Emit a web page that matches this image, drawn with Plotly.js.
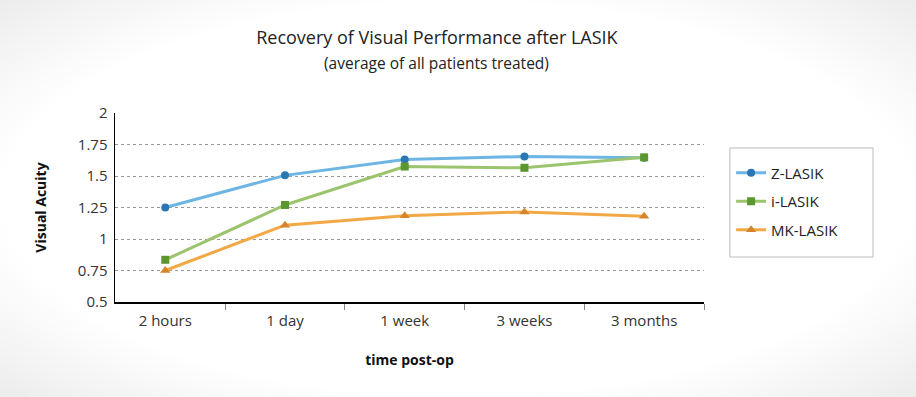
<!DOCTYPE html>
<html><head><meta charset="utf-8">
<script src="https://cdn.plot.ly/plotly-3.0.1.min.js"></script>
<style>
html,body{margin:0;padding:0;}
body{width:916px;height:397px;background:radial-gradient(ellipse at center,#ffffff 70%,#ececec 100%);}
#chart{width:916px;height:397px;}
</style></head>
<body><div id="chart"></div>
<script>
const categories = ["2 hours", "1 day", "1 week", "3 weeks", "3 months"];
const zLasik = [1.25, 1.505, 1.63, 1.655, 1.645];
const iLasik = [0.835, 1.27, 1.575, 1.565, 1.648];
const mkLasik = [0.75, 1.11, 1.185, 1.215, 1.18];
const yTicks = [0.5, 0.75, 1, 1.25, 1.5, 1.75, 2];
const yTickText = ["0.5", "0.75", "1", "1.25", "1.5", "1.75", "2"];
const titleText = "Recovery of Visual Performance after LASIK";
const subtitleText = "(average of all patients treated)";

const font = "'Open Sans', 'Noto Sans', sans-serif";
function series(name, y, lineColor, markerColor, symbol, size) {
  return {x: categories, y: y, name: name, legendgroup: name, type: "scatter", mode: "lines+markers",
    line: {color: lineColor, width: 3},
    marker: {color: markerColor, symbol: symbol, size: size}};
}
const data = [
  series("Z-LASIK", zLasik, "#6db5e3", "#2876b3", "circle", 8),
  series("i-LASIK", iLasik, "#9cc46e", "#5b972f", "square", 8),
  series("MK-LASIK", mkLasik, "#f3a846", "#d7852a", "triangle-up", 9)
];
const layout = {
  width: 916, height: 397,
  margin: {l: 115, r: 212, t: 113, b: 95},
  paper_bgcolor: "rgba(0,0,0,0)", plot_bgcolor: "rgba(0,0,0,0)",
  font: {family: font, color: "#333", size: 14},
  title: {text: titleText, x: 0.477, xanchor: "center", y: 0.905, yanchor: "middle",
    font: {size: 18, color: "#222"}},
  annotations: [{text: subtitleText, xref: "paper", yref: "paper", x: 0.545, y: 1.265,
    xanchor: "center", yanchor: "middle", showarrow: false, font: {size: 15.5, color: "#222"}}],
  xaxis: {type: "category", range: [-0.42, 4.5], showline: true, linecolor: "#000", linewidth: 1.5,
    ticks: "outside", tickson: "boundaries", ticklen: 6, tickcolor: "#888", showgrid: false,
    tickfont: {size: 15, color: "#333"}, ticklabelstandoff: 4,
    title: {text: "<b>time post-op</b>", font: {size: 14, color: "#111"}, standoff: 26}},
  yaxis: {range: [0.5, 2], tickvals: yTicks, ticktext: yTickText, showline: true, linecolor: "#000", linewidth: 1.5,
    ticks: "", showgrid: true, gridcolor: "#999", griddash: "dot", gridwidth: 1, zeroline: false,
    tickfont: {size: 15, color: "#333"}, ticklabelstandoff: 3,
    title: {text: "<b>Visual Acuity</b>", font: {size: 14, color: "#111"}, standoff: 28}},
  shapes: [{type: "rect", xref: "paper", yref: "paper", x0: 1.044, x1: 1.287, y0: 0.238, y1: 0.815,
    line: {color: "#bbb", width: 1}, fillcolor: "#fff", layer: "below"}],
  legend: {x: 1.046, xanchor: "left", y: 0.77, yanchor: "top", borderwidth: 0,
    bgcolor: "rgba(0,0,0,0)", font: {size: 15, color: "#222"}, tracegroupgap: 6},
  showlegend: true
};
Plotly.newPlot("chart", data, layout, {displayModeBar: false, staticPlot: true});
</script></body></html>
